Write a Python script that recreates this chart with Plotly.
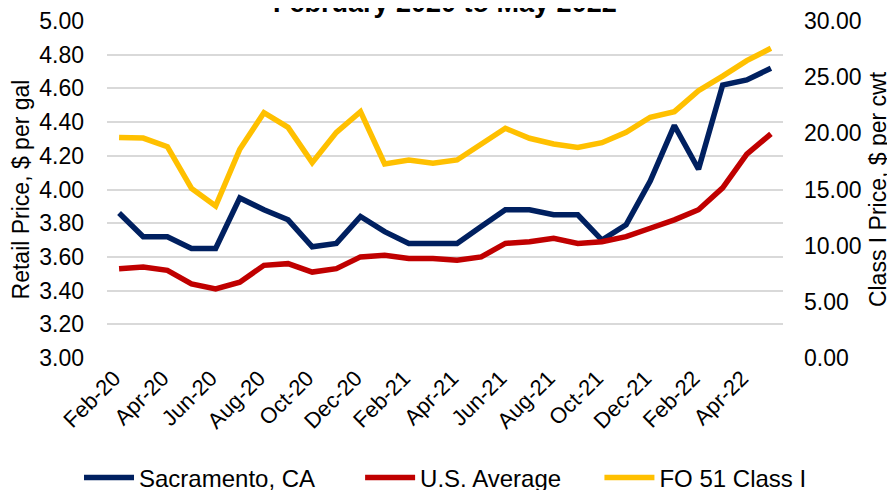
import plotly.graph_objects as go

months = ["Feb-20", "Mar-20", "Apr-20", "May-20", "Jun-20", "Jul-20", "Aug-20", "Sep-20",
          "Oct-20", "Nov-20", "Dec-20", "Jan-21", "Feb-21", "Mar-21", "Apr-21", "May-21",
          "Jun-21", "Jul-21", "Aug-21", "Sep-21", "Oct-21", "Nov-21", "Dec-21", "Jan-22",
          "Feb-22", "Mar-22", "Apr-22", "May-22"]

sacramento = [3.86, 3.72, 3.72, 3.65, 3.65, 3.95, 3.88, 3.82, 3.66, 3.68, 3.84, 3.75,
              3.68, 3.68, 3.68, 3.78, 3.88, 3.88, 3.85, 3.85, 3.70, 3.79, 4.05, 4.38,
              4.12, 4.62, 4.65, 4.72]

us_average = [3.53, 3.54, 3.52, 3.44, 3.41, 3.45, 3.55, 3.56, 3.51, 3.53, 3.60, 3.61,
              3.59, 3.59, 3.58, 3.60, 3.68, 3.69, 3.71, 3.68, 3.69, 3.72, 3.77, 3.82,
              3.88, 4.01, 4.21, 4.33]

fo51_class1 = [19.64, 19.58, 18.81, 15.10, 13.53, 18.58, 21.84, 20.53, 17.39, 20.09, 21.93, 17.27,
               17.63, 17.33, 17.63, 19.11, 20.45, 19.56, 19.05, 18.75, 19.17, 20.09, 21.43, 21.93,
               23.80, 25.10, 26.47, 27.57]

series_names = ["Sacramento, CA", "U.S. Average", "FO 51 Class I"]
tick_labels = months[::2]
left_ticks = [3.0 + 0.2 * i for i in range(11)]
right_ticks = [0, 5, 10, 15, 20, 25, 30]

FONT = "Liberation Sans, Arial, sans-serif"
NB = "\u00a0"

fig = go.Figure()
fig.add_trace(go.Scatter(x=months, y=sacramento, name=series_names[0] + NB * 6, mode="lines",
                         line=dict(color="#002060", width=5.5), yaxis="y"))
fig.add_trace(go.Scatter(x=months, y=us_average, name=series_names[1] + NB * 5, mode="lines",
                         line=dict(color="#C00000", width=5.5), yaxis="y"))
fig.add_trace(go.Scatter(x=months, y=fo51_class1, name=series_names[2], mode="lines",
                         line=dict(color="#FFC000", width=5.5), yaxis="y2"))

fig.update_layout(
    width=895, height=490,
    margin=dict(l=99, r=120, t=13, b=140, autoexpand=False),
    paper_bgcolor="white", plot_bgcolor="white",
    font=dict(family=FONT, size=23, color="#000000"),
    showlegend=True,
    legend=dict(orientation="h", x=-0.0414, xanchor="left", y=-0.356, yanchor="middle",
                font=dict(size=24), itemwidth=50, traceorder="normal",
                bgcolor="rgba(0,0,0,0)"),
    xaxis=dict(type="category", range=[-0.5, 27.5], tickmode="array",
               tickvals=tick_labels, ticktext=tick_labels, tickangle=-45,
               showgrid=False, showline=False, zeroline=False, ticks="",
               tickfont=dict(size=22), ticklabelstandoff=2, ticklabelshift=-5,
               automargin=False),
    yaxis=dict(range=[3.0, 5.0], tickvals=left_ticks, tickformat=".2f",
               showgrid=True, gridcolor="#D9D9D9", gridwidth=1.5, zeroline=False,
               showline=False, ticks="", tickfont=dict(size=23), ticklabelstandoff=22,
               automargin=False,
               title=dict(text="Retail Price, $ per gal", font=dict(size=23), standoff=23)),
    yaxis2=dict(range=[0, 30], tickvals=right_ticks, tickformat=".2f", overlaying="y",
                side="right", showgrid=False, zeroline=False, showline=False, ticks="",
                tickfont=dict(size=23), ticklabelstandoff=20, automargin=False,
                title=dict(text="Class I Price, $ per cwt", font=dict(size=23), standoff=9)),
)

fig.add_annotation(text="<b>February 2020 to May 2022</b>", xref="paper", yref="paper",
                   x=0.5, y=1, yanchor="middle", yshift=18, showarrow=False,
                   font=dict(size=27, family=FONT, color="#000000"))

fig.write_html("out.html")
